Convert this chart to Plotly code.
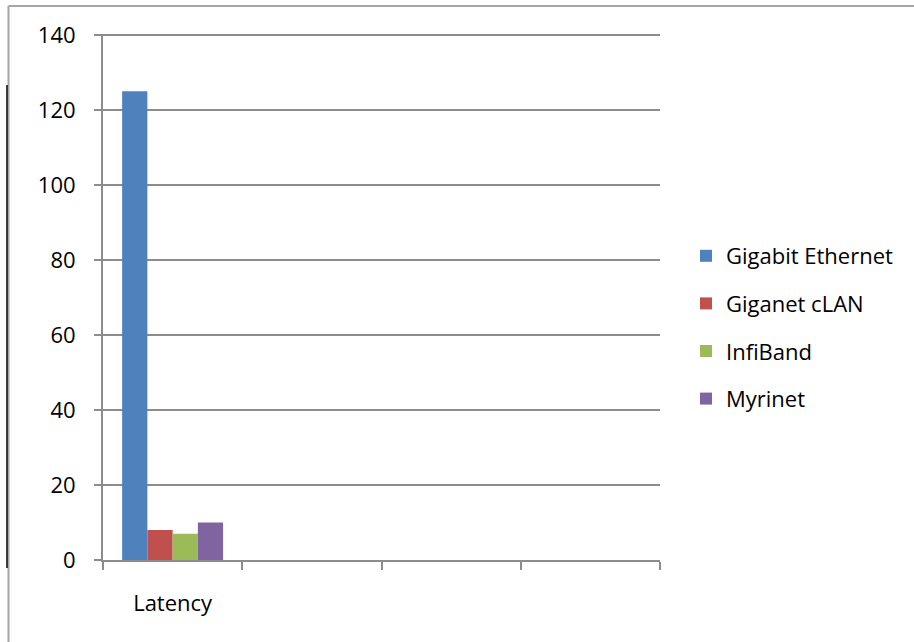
import plotly.graph_objects as go

categories = ["Latency", " ", "  ", "   "]
series_names = ["Gigabit Ethernet", "Giganet cLAN", "InfiBand", "Myrinet"]
series_values = [125, 8, 7, 10]
series_colors = ["#4F81BD", "#C0504D", "#9BBB59", "#8064A2"]
y_ticks = [0, 20, 40, 60, 80, 100, 120, 140]

fig = go.Figure()
for name, val, col in zip(series_names, series_values, series_colors):
    fig.add_trace(go.Bar(
        x=[categories[0]], y=[val], name=name, legendgroup=name,
        marker=dict(color=col, line=dict(width=0)),
    ))

W, H = 914, 642
L, R, T, B = 103, 254, 35, 82
pw, ph = W - L - R, H - T - B

def px(x):
    return (x - L) / pw

def py(y):
    return (H - B - y) / ph

shapes = [
    dict(type="line", xref="paper", yref="paper", x0=px(8.5), x1=px(914), y0=py(6), y1=py(6),
         line=dict(color="#A6A6A6", width=2)),
    dict(type="line", xref="paper", yref="paper", x0=px(8.5), x1=px(8.5), y0=py(6), y1=py(642),
         line=dict(color="#A6A6A6", width=2)),
    dict(type="line", xref="paper", yref="paper", x0=px(7), x1=px(7), y0=py(85), y1=py(568),
         line=dict(color="#000000", width=1.5)),
    dict(type="line", xref="paper", yref="paper", x0=px(96), x1=1, y0=1, y1=1,
         line=dict(color="#8C8C8C", width=2)),
]

fig.update_layout(
    width=W, height=H,
    margin=dict(l=L, r=R, t=T, b=B),
    paper_bgcolor="white", plot_bgcolor="white",
    barmode="group", bargap=0.275, bargroupgap=0,
    font=dict(family="Open Sans, Liberation Sans, sans-serif", color="#000000"),
    xaxis=dict(
        type="category", categoryorder="array", categoryarray=categories,
        range=[-0.5, 3.5], tickson="boundaries", ticks="outside", ticklen=8,
        tickcolor="#8C8C8C", tickwidth=2, showline=True, linecolor="#8C8C8C", linewidth=2,
        showgrid=False, tickfont=dict(size=22), ticklabelstandoff=23, fixedrange=True,
    ),
    yaxis=dict(
        range=[0, 140], tickvals=y_ticks, ticks="outside", ticklen=7,
        tickcolor="#8C8C8C", tickwidth=2, showline=True, linecolor="#8C8C8C", linewidth=2,
        showgrid=True, gridcolor="#8C8C8C", gridwidth=2, zeroline=False,
        tickfont=dict(size=22), ticklabelstandoff=14,
    ),
    legend=dict(
        x=px(686), y=py(235), xanchor="left", yanchor="top",
        font=dict(size=22), tracegroupgap=16, traceorder="grouped",
        itemwidth=30,
    ),
    shapes=shapes,
)

fig.write_html("out.html")
